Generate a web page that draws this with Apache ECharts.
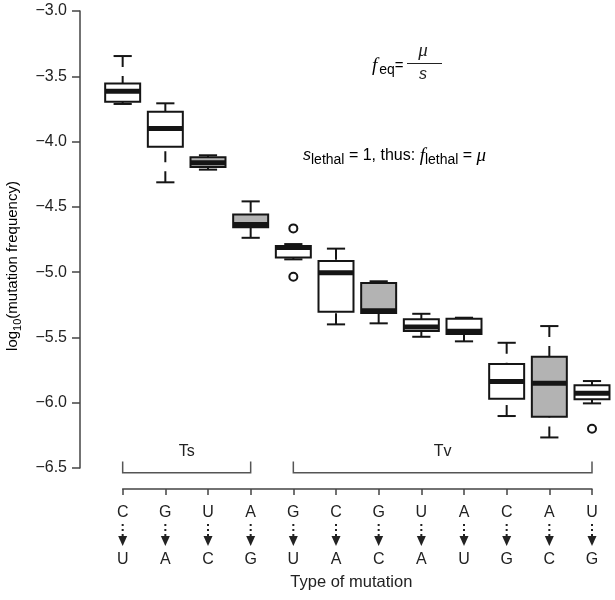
<!DOCTYPE html>
<html><head><meta charset="utf-8">
<script src="https://cdn.jsdelivr.net/npm/echarts@6/dist/echarts.min.js"></script>
<style>html,body{margin:0;padding:0;background:#fff}#c{width:615px;height:600px}</style>
</head><body><div id="c"></div>
<script>
// ---- data ----
const fromBase = ['C','G','U','A','G','C','G','U','A','C','A','U'];
const toBase   = ['U','A','C','G','U','A','C','A','U','G','C','G'];
const whiskerHigh = [-3.345, -3.707, -4.105, -4.458, -4.785, -4.82, -5.07, -5.319, -5.349, -5.541, -5.413, -5.834];
const q3          = [-3.555, -3.772, -4.12, -4.558, -4.80, -4.915, -5.083, -5.36, -5.356, -5.704, -5.648, -5.867];
const median      = [-3.615, -3.90, -4.163, -4.635, -4.812, -5.005, -5.295, -5.42, -5.452, -5.837, -5.85, -5.928];
const q1          = [-3.695, -4.04, -4.195, -4.657, -4.888, -5.303, -5.313, -5.451, -5.474, -5.97, -6.108, -5.974];
const whiskerLow  = [-3.712, -4.312, -4.215, -4.737, -4.902, -5.40, -5.392, -5.495, -5.53, -6.102, -6.266, -6.005];
const boxShade    = ['white','white','gray','gray','white','white','gray','white','white','white','gray','white'];
const outlierIndex = [4, 4, 11];
const outlierValue = [-4.665, -5.035, -6.2];
const groupNames = ['Ts', 'Tv'];
const groupStart = [0, 4];
const groupEnd   = [3, 11];
const yMin = -6.5, yMax = -3.0, yStep = 0.5;

// ---- chart ----
const SANS = "'Liberation Sans', Arial, Helvetica, sans-serif";
const SERIF = "'Liberation Serif', 'Times New Roman', serif";
const INK = '#151515';
const fillColor = {white: '#ffffff', gray: '#b3b3b3'};

const boxData = fromBase.map((_, i) => [i, whiskerHigh[i], q3[i], median[i], q1[i], whiskerLow[i], boxShade[i] === 'gray' ? 1 : 0]);
const outlierData = outlierIndex.map((i, k) => [i, outlierValue[k]]);
const groupData = groupNames.map((n, k) => [groupStart[k], groupEnd[k], k]);
const arrowData = fromBase.map((_, i) => [i, 0]);

function renderBox(params, api) {
  const i = api.value(0);
  const x = api.coord([i, 0])[0];
  const y = v => api.coord([i, v])[1];
  const yHi = y(api.value(1)), yQ3 = y(api.value(2)), yMed = y(api.value(3)), yQ1 = y(api.value(4)), yLo = y(api.value(5));
  const w = api.size([1, 0])[0];
  const bw = w * 0.82, cw = bw * 0.52;
  const fill = api.value(6) === 1 ? fillColor.gray : fillColor.white;
  const wh = {stroke: INK, lineWidth: 2, lineDash: [11, 9]};
  return {type: 'group', children: [
    {type: 'line', shape: {x1: x, y1: yHi, x2: x, y2: yQ3}, style: wh},
    {type: 'line', shape: {x1: x, y1: yLo, x2: x, y2: yQ1}, style: wh},
    {type: 'line', shape: {x1: x - cw/2, y1: yHi, x2: x + cw/2, y2: yHi}, style: {stroke: INK, lineWidth: 2}},
    {type: 'line', shape: {x1: x - cw/2, y1: yLo, x2: x + cw/2, y2: yLo}, style: {stroke: INK, lineWidth: 2}},
    {type: 'rect', shape: {x: x - bw/2, y: yQ3, width: bw, height: yQ1 - yQ3}, style: {fill: fill, stroke: INK, lineWidth: 2}},
    {type: 'line', shape: {x1: x - bw/2, y1: yMed, x2: x + bw/2, y2: yMed}, style: {stroke: INK, lineWidth: 5}}
  ]};
}

function renderGroup(params, api) {
  const a = api.coord([api.value(0), 0.33]);
  const b = api.coord([api.value(1), 0.33]);
  const top = api.coord([api.value(0), 0.56])[1];
  const ly = api.coord([api.value(0), 0.76])[1];
  const name = groupNames[api.value(2)];
  return {type: 'group', children: [
    {type: 'polyline', shape: {points: [[a[0], top], [a[0], a[1]], [b[0], b[1]], [b[0], top]]}, style: {stroke: '#555', lineWidth: 1.5, fill: null}},
    {type: 'text', x: (a[0] + b[0]) / 2, y: ly, style: {text: name, font: '16px ' + SANS, fill: '#222', align: 'center', verticalAlign: 'middle'}}
  ]};
}

function renderArrow(params, api) {
  const p = api.coord([api.value(0), 0]);
  const x = p[0], y0 = p[1];
  return {type: 'group', children: [
    {type: 'line', shape: {x1: x, y1: y0 + 35, x2: x, y2: y0 + 47}, style: {stroke: '#222', lineWidth: 2, lineDash: [2, 3]}},
    {type: 'polygon', shape: {points: [[x - 4.5, y0 + 47], [x + 4.5, y0 + 47], [x, y0 + 57]]}, style: {fill: '#222'}}
  ]};
}

const chart = echarts.init(document.getElementById('c'), null, {renderer: 'canvas'});
chart.setOption({
  backgroundColor: '#fff',
  animation: false,
  grid: [
    {left: 80, right: 23, top: 11, bottom: 132},
    {left: 122.67, right: 23, top: 440, height: 49}
  ],
  xAxis: [
    {gridIndex: 0, type: 'value', min: -1, max: 11, show: false},
    {gridIndex: 1, type: 'value', min: 0, max: 11, interval: 1, position: 'bottom',
     axisLine: {show: true, onZero: false, lineStyle: {color: '#444', width: 1.5}},
     axisTick: {show: true, length: 6, lineStyle: {color: '#444', width: 1.5}},
     splitLine: {show: false},
     axisLabel: {margin: 14, formatter: v => '{t|' + fromBase[v] + '}\n{s| }\n{t|' + toBase[v] + '}',
       rich: {t: {fontSize: 16, fontFamily: SANS, color: '#222', lineHeight: 20, align: 'center'},
              s: {fontSize: 10, lineHeight: 27}}},
     name: 'Type of mutation', nameLocation: 'middle', nameGap: 85,
     nameTextStyle: {fontSize: 16.5, fontFamily: SANS, color: '#222', padding: [0, 12, 0, 0]}}
  ],
  yAxis: [
    {gridIndex: 0, type: 'value', min: yMin, max: yMax, interval: yStep,
     axisLine: {show: true, onZero: false, lineStyle: {color: '#444', width: 1.5}},
     axisTick: {show: true, length: 8, lineStyle: {color: '#444', width: 1.5}},
     splitLine: {show: false},
     axisLabel: {fontSize: 16, fontFamily: SANS, color: '#222', margin: 13,
       formatter: v => (v < 0 ? '\u2212' : '') + Math.abs(v).toFixed(1)}},
    {gridIndex: 1, type: 'value', min: 0, max: 1, show: false}
  ],
  series: [
    {type: 'custom', xAxisIndex: 0, yAxisIndex: 0, renderItem: renderBox, data: boxData,
     encode: {x: 0, y: [1, 2, 3, 4, 5]}, clip: false, z: 2},
    {type: 'scatter', xAxisIndex: 0, yAxisIndex: 0, data: outlierData, symbol: 'circle', symbolSize: 8,
     itemStyle: {color: '#fff', borderColor: INK, borderWidth: 2, opacity: 1}, z: 3},
    {type: 'custom', xAxisIndex: 1, yAxisIndex: 1, renderItem: renderGroup, data: groupData, clip: false},
    {type: 'custom', xAxisIndex: 1, yAxisIndex: 1, renderItem: renderArrow, data: arrowData, clip: false}
  ],
  graphic: [
    {type: 'text', x: 13, y: 266, rotation: Math.PI / 2,
     style: {text: '{a|log}{b|10}{a|(mutation frequency)}', align: 'center', verticalAlign: 'middle',
       rich: {a: {fontSize: 15, fontFamily: SANS, color: '#222', lineHeight: 20, verticalAlign: 'middle'},
              b: {fontSize: 11, fontFamily: SANS, color: '#222', lineHeight: 20, verticalAlign: 'bottom'}}}},
    {type: 'text', x: 372, y: 66,
     style: {text: '{f|f}{b|eq}{n|=}', align: 'left', verticalAlign: 'middle',
       rich: {f: {fontSize: 19, fontFamily: SERIF, fontStyle: 'italic', color: '#222', lineHeight: 22},
              b: {fontSize: 14, fontFamily: SANS, color: '#222', lineHeight: 22, verticalAlign: 'bottom', padding: [0, 0, 0, 2]},
              n: {fontSize: 15, fontFamily: SANS, color: '#222', lineHeight: 22}}}},
    {type: 'line', shape: {x1: 407, y1: 63.5, x2: 442, y2: 63.5}, style: {stroke: '#222', lineWidth: 1}},
    {type: 'text', x: 423, y: 51, style: {text: 'μ', font: 'italic 19px ' + SERIF, fill: '#222', align: 'center', verticalAlign: 'middle'}},
    {type: 'text', x: 423, y: 75, style: {text: 's', font: 'italic 16px ' + SANS, fill: '#222', align: 'center', verticalAlign: 'middle'}},
    {type: 'text', x: 303, y: 156,
     style: {text: '{s|s}{b|lethal}{n| = 1, thus: }{f|f}{b|lethal}{n| = }{m|μ}', align: 'left', verticalAlign: 'middle',
       rich: {s: {fontSize: 16, fontFamily: SANS, fontStyle: 'italic', color: '#222', lineHeight: 22},
              b: {fontSize: 14, fontFamily: SANS, color: '#222', lineHeight: 22, verticalAlign: 'bottom'},
              n: {fontSize: 16, fontFamily: SANS, color: '#222', lineHeight: 22},
              f: {fontSize: 19, fontFamily: SERIF, fontStyle: 'italic', color: '#222', lineHeight: 22},
              m: {fontSize: 19, fontFamily: SERIF, fontStyle: 'italic', color: '#222', lineHeight: 22}}}}
  ]
});
</script></body></html>
